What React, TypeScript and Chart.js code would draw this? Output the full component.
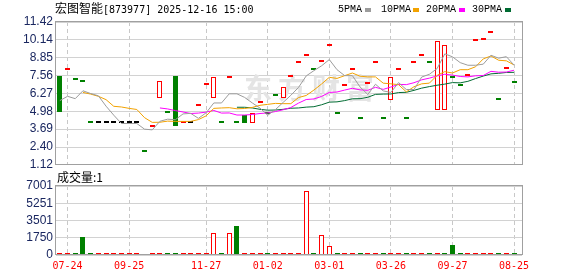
import React, { useEffect, useRef } from 'react';
import { Chart, registerables } from 'chart.js';

Chart.register(...registerables);

const stockName = '宏图智能';
const stockCode = '[873977]';
const stampText = '2025-12-16 15:00';
const volumeLabel = '成交量:1';
const watermarkText = '东方财富';

const maLabels = ['5PMA', '10PMA', '20PMA', '30PMA'];
const maColors = ['#9c9c9c', '#f2a200', '#ff00ff', '#006b32'];

const dateLabels = ['07-24', '09-25', '11-27', '01-02', '03-01', '03-26', '09-27', '08-25'];
const dateIndex = [1, 9, 19, 27, 35, 43, 51, 59];
const priceTicks = [1.12, 2.40, 3.69, 4.98, 6.27, 7.56, 8.85, 10.14, 11.42];
const volumeTicks = [0, 1750, 3501, 5251, 7001];

const opens = [
  7.49, 7.96, 7.23, 7.09, 4.10, 4.10, 4.10, 4.10, 4.10, 4.10,
  4.10, 2.03, 3.87, 5.94, 4.87, 7.49, 4.10, 4.10, 5.39, 6.87,
  5.94, 4.10, 7.39, 4.10, 4.68, 4.13, 5.60, 4.80, 6.13, 5.94,
  7.42, 8.44, 8.97, 7.97, 8.51, 9.68, 4.75, 6.82, 7.97, 4.44,
  6.96, 8.44, 4.44, 5.80, 7.97, 4.44, 8.44, 8.94, 8.44, 5.08,
  5.08, 7.40, 6.82, 7.51, 10.04, 10.11, 10.61, 5.80, 8.04, 7.01,
];
const closes = [
  4.91, 7.96, 7.23, 7.09, 4.10, 4.10, 4.10, 4.10, 4.10, 4.10,
  4.10, 2.03, 3.87, 7.18, 4.87, 3.91, 4.10, 4.10, 5.39, 6.87,
  7.44, 4.10, 7.39, 4.10, 4.10, 4.87, 5.60, 4.80, 6.11, 6.73,
  7.42, 8.44, 8.97, 7.97, 8.51, 9.68, 4.75, 6.82, 7.97, 4.44,
  6.96, 8.44, 4.44, 7.44, 7.97, 4.44, 8.44, 8.94, 8.44, 10.04,
  9.73, 7.40, 6.82, 7.51, 10.04, 10.11, 10.61, 5.80, 8.04, 7.01,
];
const volumes = [
  5, 3, 2, 1840, 10, 1, 1, 2, 1, 1,
  1, null, 2, 5, 1, 3, 1, 1, 2, 3,
  2200, 1, 2200, 2940, 4, 6, 2, 1, 2, 8,
  3, 2, 6490, 1, 2010, 900, 1, 2, 1, 1,
  2, 1, 1, 5, 1, 1, 2, 1, 1, 30,
  25, 1015, 1, 1, 1, 1, 1, 1, 1, 1,
];
const ma5 = [
  5.75, 6.06, 5.89, 6.46, 6.26, 6.10, 5.35, 4.70, 4.10, 4.10,
  4.10, 3.69, 3.64, 4.26, 4.41, 4.37, 4.79, 4.83, 4.47, 4.87,
  5.58, 5.58, 6.24, 6.24, 5.98, 5.58, 5.21, 4.69, 5.10, 5.62,
  6.13, 6.70, 7.53, 7.91, 8.26, 8.71, 7.98, 7.55, 7.55, 6.73,
  6.19, 6.93, 6.45, 6.34, 7.05, 6.55, 6.55, 7.45, 7.65, 8.06,
  9.12, 8.91, 8.49, 8.30, 8.30, 8.38, 9.02, 8.81, 8.92, 8.31,
];
const ma10 = [
  null, null, null, 6.34, 6.22, 6.06, 5.82, 5.34, 5.29, 5.19,
  5.11, 4.52, 4.18, 4.19, 4.27, 4.25, 4.25, 4.25, 4.38, 4.65,
  5.19, 5.22, 5.24, 5.16, 5.18, 5.26, 5.41, 5.48, 5.55, 5.53,
  5.53, 5.97, 6.12, 6.51, 6.95, 7.43, 7.35, 7.55, 7.74, 7.51,
  7.46, 7.46, 7.01, 6.96, 6.90, 6.38, 6.75, 6.96, 7.01, 7.57,
  7.84, 7.74, 7.98, 7.98, 8.19, 8.76, 8.97, 8.66, 8.62, 8.32,
];
const ma20 = [
  null, null, null, null, null, null, null, null, null, null,
  null, null, null, 5.22, 5.15, 5.03, 4.93, 4.82, 4.85, 4.92,
  5.04, 4.85, 4.86, 4.71, 4.71, 4.75, 4.82, 4.86, 4.96, 5.09,
  5.25, 5.57, 5.83, 5.87, 6.05, 6.34, 6.37, 6.51, 6.64, 6.52,
  6.49, 6.71, 6.56, 6.73, 6.92, 6.90, 7.04, 7.25, 7.37, 7.53,
  7.65, 7.59, 7.49, 7.46, 7.54, 7.56, 7.86, 7.80, 7.81, 7.94,
];
const ma30 = [
  null, null, null, null, null, null, null, null, null, null,
  null, null, null, null, null, null, null, null, null, null,
  null, null, null, 5.27, 5.27, 5.22, 5.12, 5.06, 5.07, 5.12,
  5.20, 5.22, 5.28, 5.31, 5.45, 5.64, 5.66, 5.75, 5.88, 5.89,
  5.99, 6.20, 6.22, 6.23, 6.33, 6.35, 6.49, 6.65, 6.76, 6.86,
  6.94, 7.05, 7.03, 7.14, 7.34, 7.52, 7.68, 7.72, 7.78, 7.79,
];

const RED = '#ff0000';
const GREEN = '#008000';
const BLACK = '#000000';
const X_MIN = -0.5;
const X_MAX = 60.03;
const TICK_COLOR = '#1a2760';

function candleColor(i: number): string {
  const o = opens[i];
  const c = closes[i];
  if (c > o) return RED;
  if (c < o) return GREEN;
  if (i === 0) return BLACK;
  const p = closes[i - 1];
  return c > p ? RED : c < p ? GREEN : BLACK;
}
function volumeColor(i: number): string {
  return i === 0 || closes[i] >= closes[i - 1] ? RED : GREEN;
}

// snap bar rectangles (already placed by the scales) onto whole pixels for crisp outlines
const snapPlugin = {
  id: 'snap',
  afterDatasetsUpdate(chart: any) {
    chart.data.datasets.forEach((ds: any, di: number) => {
      const meta = chart.getDatasetMeta(di);
      if (meta.type !== 'bar') return;
      meta.data.forEach((el: any) => {
        el.x = Math.floor(el.x) + 0.5;
        el.y = Math.round(el.y);
        el.base = Math.round(el.base);
      });
    });
  },
};

const boxPlugin = {
  id: 'box',
  afterDraw(chart: any) {
    const { ctx, chartArea: a } = chart;
    ctx.save();
    ctx.strokeStyle = '#a0a0a0';
    ctx.lineWidth = 1;
    const l = Math.round(a.left) - 0.5;
    const t = Math.round(a.top) - 0.5;
    const r = Math.round(a.right) + 0.5;
    const b = Math.round(a.bottom) - 0.5;
    ctx.strokeRect(l, t, r - l, b - t);
    ctx.restore();
  },
};

const watermarkPlugin = {
  id: 'watermark',
  beforeDatasetsDraw(chart: any) {
    const { ctx } = chart;
    ctx.save();
    ctx.font = 'bold 28px "Noto Sans CJK SC"';
    (ctx as any).letterSpacing = '6px';
    ctx.fillStyle = '#e4e4e4';
    ctx.textAlign = 'center';
    ctx.textBaseline = 'middle';
    ctx.fillText(watermarkText, 312, 88);
    ctx.restore();
  },
};

function xScale(showLabels: boolean): any {
  return {
    type: 'linear',
    min: X_MIN,
    max: X_MAX,
    offset: false,
    afterBuildTicks: (s: any) => {
      s.ticks = dateIndex.map((v) => ({ value: v }));
    },
    afterFit: (s: any) => {
      s.height = showLabels ? 21 : 0;
    },
    ticks: {
      display: showLabels,
      autoSkip: false,
      maxRotation: 0,
      padding: 5,
      color: RED,
      font: { family: '"DejaVu Sans Mono"', size: 10 },
      callback: (_v: any, i: number) => dateLabels[i],
    },
    grid: { color: '#c8c8c8', drawTicks: false, offset: false },
    border: { display: false, dash: [4, 3] },
  };
}

export default function App() {
  const mainRef = useRef<HTMLCanvasElement>(null);
  const volRef = useRef<HTMLCanvasElement>(null);

  useEffect(() => {
    const cColors = opens.map((_, i) => candleColor(i));
    const cFill = cColors.map((c) => (c === RED ? '#ffffff' : c));
    const maData = [ma5, ma10, ma20, ma30];

    const main = new Chart(mainRef.current as HTMLCanvasElement, {
      type: 'bar',
      data: {
        datasets: [
          ...maData.map((arr, k) => ({
            type: 'line' as const,
            label: maLabels[k],
            data: arr.map((v, i) => ({ x: i, y: v })),
            borderColor: maColors[k],
            borderWidth: 1,
            pointRadius: 0,
            tension: 0,
            spanGaps: false,
            order: 1,
          })),
          {
            type: 'bar' as const,
            label: 'K',
            data: opens.map((o, i) => ({ x: i, y: [o, closes[i]] })),
            backgroundColor: cFill,
            borderColor: cColors,
            borderWidth: 1,
            borderSkipped: false,
            inflateAmount: 0,
            barThickness: 5,
            minBarLength: 2,
            order: 2,
          } as any,
        ],
      },
      options: {
        animation: false,
        responsive: false,
        maintainAspectRatio: false,
        events: [],
        layout: { padding: { left: 0, right: 56, top: 22, bottom: 9 } },
        plugins: { legend: { display: false }, tooltip: { enabled: false } },
        scales: {
          x: xScale(false),
          y: {
            type: 'linear',
            min: priceTicks[0],
            max: priceTicks[priceTicks.length - 1],
            afterBuildTicks: (s: any) => {
              s.ticks = priceTicks.map((v) => ({ value: v }));
            },
            afterFit: (s: any) => {
              s.width = 56;
            },
            ticks: {
              autoSkip: false,
              padding: 3,
              color: TICK_COLOR,
              font: { family: '"Liberation Sans", Arial', size: 12 },
              callback: (_v: any, i: number) => priceTicks[i].toFixed(2),
            },
            grid: { color: '#d2d2d2', drawTicks: false },
            border: { display: false },
          },
        },
      } as any,
      plugins: [snapPlugin, watermarkPlugin, boxPlugin],
    });

    const vol = new Chart(volRef.current as HTMLCanvasElement, {
      type: 'bar',
      data: {
        datasets: [
          {
            label: 'VOL',
            data: volumes.map((v, i) => ({ x: i, y: v })),
            backgroundColor: volumes.map((_, i) => (volumeColor(i) === RED ? '#ffffff' : GREEN)),
            borderColor: volumes.map((_, i) => volumeColor(i)),
            borderWidth: 1,
            borderSkipped: false,
            inflateAmount: 0,
            barThickness: 5,
            minBarLength: 2,
          } as any,
        ],
      },
      options: {
        animation: false,
        responsive: false,
        maintainAspectRatio: false,
        events: [],
        layout: { padding: { left: 0, right: 56, top: 16, bottom: 0 } },
        plugins: { legend: { display: false }, tooltip: { enabled: false } },
        scales: {
          x: xScale(true),
          y: {
            type: 'linear',
            min: volumeTicks[0],
            max: volumeTicks[volumeTicks.length - 1],
            afterBuildTicks: (s: any) => {
              s.ticks = volumeTicks.map((v) => ({ value: v }));
            },
            afterFit: (s: any) => {
              s.width = 56;
            },
            ticks: {
              autoSkip: false,
              padding: 3,
              color: TICK_COLOR,
              font: { family: '"Liberation Sans", Arial', size: 12 },
              callback: (_v: any, i: number) => String(volumeTicks[i]),
            },
            grid: { color: '#d2d2d2', drawTicks: false },
            border: { display: false },
          },
        },
      } as any,
      plugins: [snapPlugin, boxPlugin],
    });

    return () => {
      main.destroy();
      vol.destroy();
    };
  }, []);

  const legendX = [338, 381, 426, 472];
  const squareX = [365, 413, 459, 505];

  return (
    <div
      style={{
        position: 'fixed',
        left: 0,
        top: 0,
        width: 578,
        height: 276,
        background: '#ffffff',
        overflow: 'hidden',
      }}
    >
      <canvas
        ref={mainRef}
        width={578}
        height={175}
        style={{ position: 'absolute', left: 0, top: 0, width: 578, height: 175 }}
      />
      <canvas
        ref={volRef}
        width={578}
        height={106}
        style={{ position: 'absolute', left: 0, top: 170, width: 578, height: 106 }}
      />
      <div
        style={{
          position: 'absolute',
          left: 55,
          top: 1,
          height: 14,
          lineHeight: '14px',
          whiteSpace: 'nowrap',
          color: '#000',
        }}
      >
        <span style={{ fontFamily: '"Noto Sans CJK SC"', fontSize: 12 }}>{stockName}</span>
        <span style={{ fontFamily: '"DejaVu Sans Mono"', fontSize: 10 }}>{stockCode + ' ' + stampText}</span>
      </div>
      {maLabels.map((lab, k) => (
        <React.Fragment key={lab}>
          <div
            style={{
              position: 'absolute',
              left: legendX[k],
              top: 3,
              lineHeight: '13px',
              fontFamily: '"Liberation Mono"',
              fontSize: 10,
              color: '#000',
              whiteSpace: 'nowrap',
            }}
          >
            {lab}
          </div>
          <div
            style={{
              position: 'absolute',
              left: squareX[k],
              top: 8,
              width: 6,
              height: 4,
              background: maColors[k],
            }}
          />
        </React.Fragment>
      ))}
      <div
        style={{
          position: 'absolute',
          left: 57,
          top: 170,
          lineHeight: '14px',
          fontFamily: '"Noto Sans CJK SC"',
          fontSize: 12,
          color: '#000',
          whiteSpace: 'nowrap',
        }}
      >
        {volumeLabel}
      </div>
    </div>
  );
}
